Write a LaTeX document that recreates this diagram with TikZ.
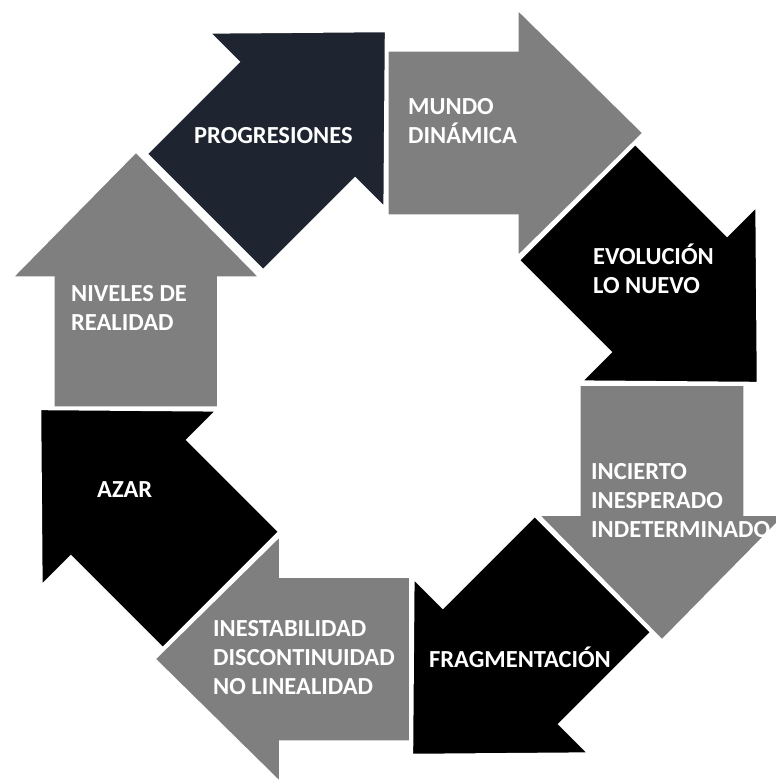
\documentclass[tikz,border=0pt]{standalone}
\usepackage{fontspec}
\setmainfont{Carlito}
\definecolor{azul}{RGB}{31,37,48}
\definecolor{gris}{RGB}{127,127,127}

\begin{document}
\begin{tikzpicture}[x=1pt,y=1pt]

\tikzset{flecha/.style = {draw=white, line width=1.5pt}}
\tikzset{rotulo/.style = {text=white, font=\bfseries\fontsize{24.5}{29}\selectfont, align=left, anchor=base west, inner sep=0pt}}
\useasboundingbox (-399,-384) rectangle (377,396);
%flechas
\foreach \ang/\col/\dy in {45/azul/6, 0/gris/0, -45/black/0, -90/gris/0, -135/black/0, 180/gris/0, 135/black/0, 90/gris/0}
  \filldraw[flecha, fill=\col, yshift=\dy, rotate=\ang] (-11,181) -- (119,181) -- (119,140) -- (244,263) -- (119,386) -- (119,345) -- (-11,345) -- cycle;
%textos (base = ultima linea)
\node[rotulo] (progresiones) at (-205,253) {PROGRESIONES};
\node[rotulo] (mundo) at (9,253) {MUNDO\\DINÁMICA};
\node[rotulo] (evolucion) at (194,103) {EVOLUCIÓN\\LO NUEVO};
\node[rotulo] (incierto) at (192,-141) {INCIERTO\\INESPERADO\\INDETERMINADO};
\node[rotulo] (fragmentacion) at (30,-271) {FRAGMENTACIÓN};
\node[rotulo] (inestabilidad) at (-186,-298) {INESTABILIDAD\\DISCONTINUIDAD\\NO LINEALIDAD};
\node[rotulo] (azar) at (-302,-101) {AZAR};
\node[rotulo] (niveles) at (-328,66) {NIVELES DE\\REALIDAD};

\end{tikzpicture}
\end{document}
